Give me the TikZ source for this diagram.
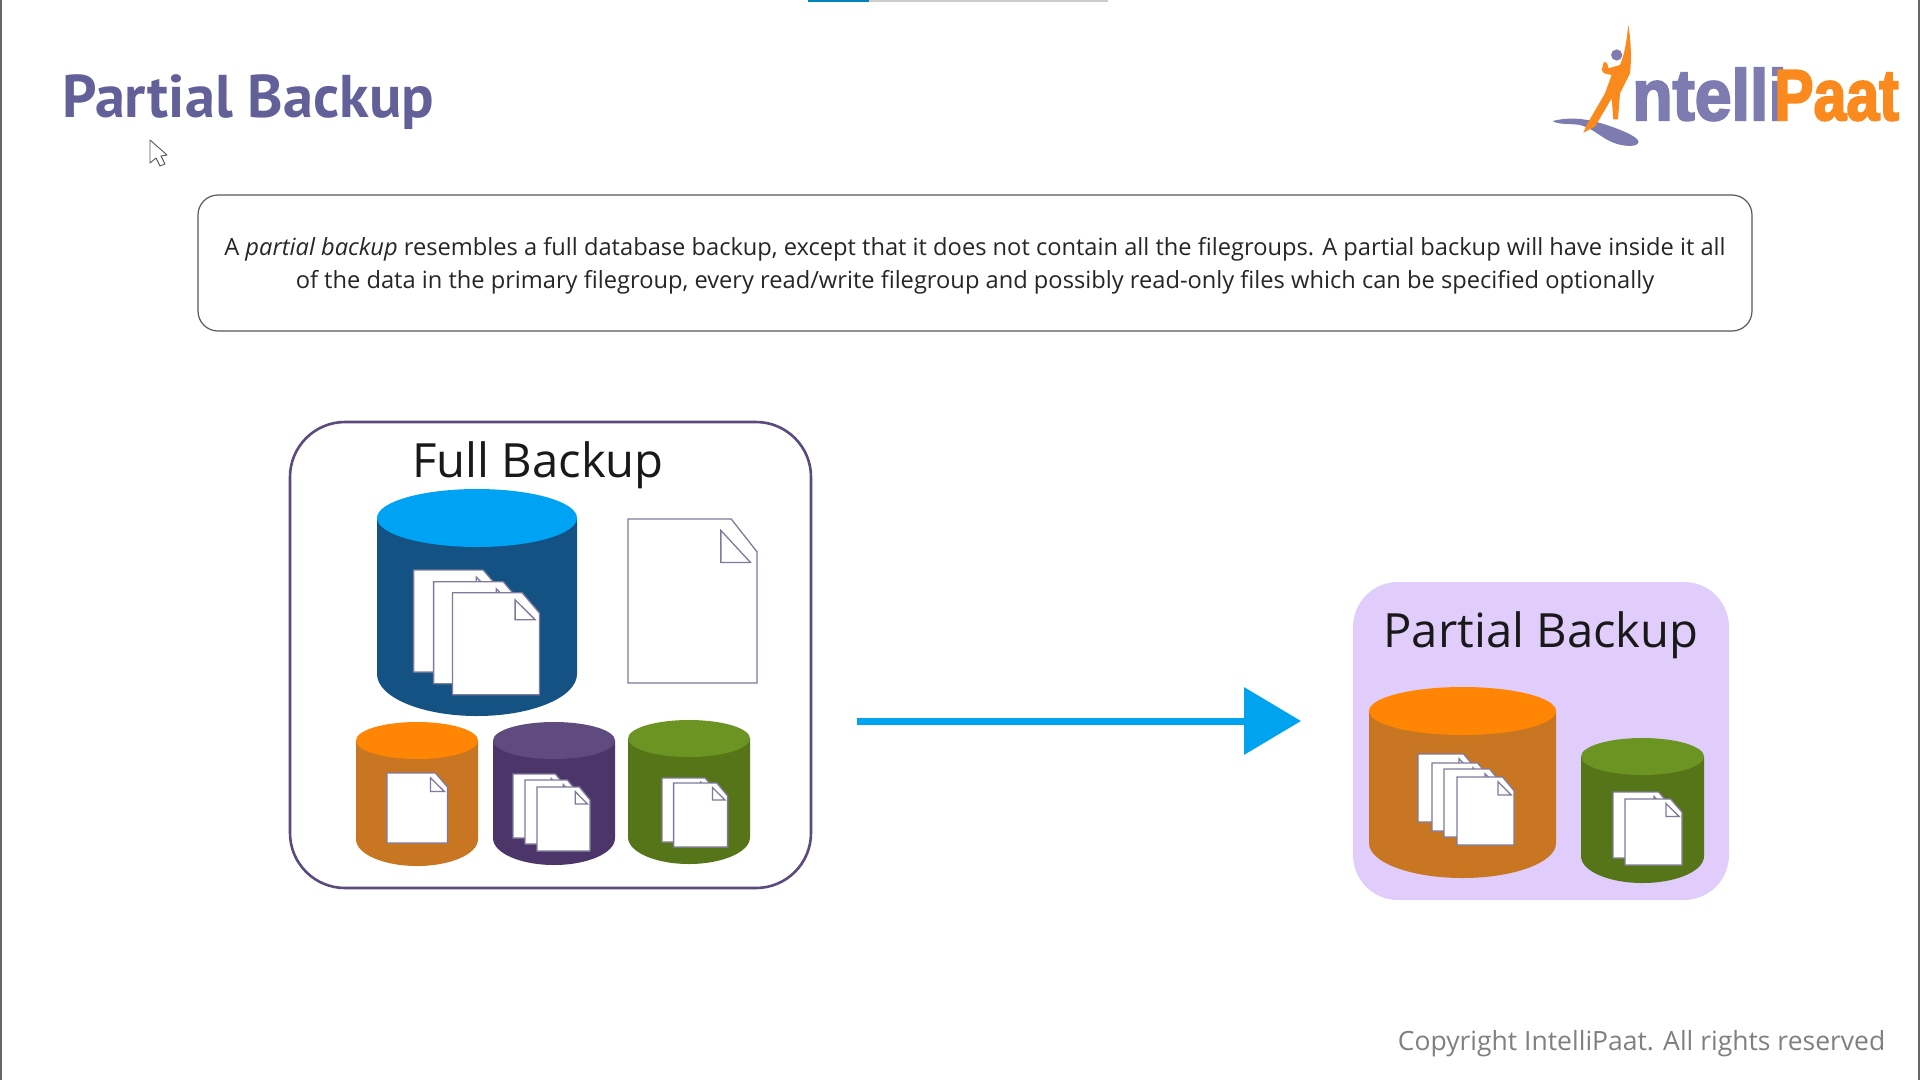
\documentclass[tikz,border=0pt]{standalone}
\usepackage{fontspec}
\setmainfont{Open Sans}
\newfontfamily\titlefont{PT Sans}
\newfontfamily\logofont{Liberation Sans}[BoldFeatures={FakeBold=3}]
\usetikzlibrary{arrows.meta}
\definecolor{framecol}{HTML}{5B4A80}
\definecolor{panelcol}{HTML}{E1CDFB}
\definecolor{flowcol}{HTML}{00A3EE}
\definecolor{titlecol}{HTML}{625F99}
\definecolor{logoviolet}{HTML}{7D7BB0}
\definecolor{logoorange}{HTML}{FA8A1E}
\definecolor{blueside}{HTML}{145283}
\definecolor{bluetop}{HTML}{00A2F3}
\definecolor{orangeside}{HTML}{C97623}
\definecolor{orangetop}{HTML}{FF8505}
\definecolor{purpleside}{HTML}{4B3569}
\definecolor{purpletop}{HTML}{5F4B7D}
\definecolor{greenside}{HTML}{567518}
\definecolor{greentop}{HTML}{6C9423}
\definecolor{pageline}{HTML}{7F7A9C}
\tikzset{
  infobox/.style={draw=black!65,line width=1.2pt,rounded corners=20pt,fill=white,inner sep=0pt,outer sep=0pt},
  fullframe/.style={draw=framecol,line width=2.6pt,rounded corners=55pt,inner sep=0pt,outer sep=0pt},
  partialpanel/.style={fill=panelcol,rounded corners=45pt,inner sep=0pt,outer sep=0pt},
  flow/.style={draw=flowcol,line width=7pt,-{Triangle[length=57pt,width=66pt]}},
  caption/.style={font=\fontsize{47.2}{52}\selectfont,text=black!90,inner sep=0pt},
  pageshape/.style={draw=pageline,line width=1.3pt,fill=white,line join=miter},
}
% xl xr ytop ybottom rytop side top
\newcommand{\dbcyl}[7]{%
  \pgfmathsetmacro{\crx}{(#2-#1)/2}%
  \pgfmathsetmacro{\ccx}{(#2+#1)/2}%
  \pgfmathsetmacro{\ccy}{#3+#5}%
  \pgfmathsetmacro{\cbr}{1.45*#5}%
  \pgfmathsetmacro{\cye}{#4-\cbr}%
  \fill[#6] (#1,\ccy) -- (#1,\cye) arc[start angle=180,end angle=360,x radius=\crx pt,y radius=\cbr pt] -- (#2,\ccy) -- cycle;
  \fill[#7] (\ccx,\ccy) ellipse[x radius=\crx pt,y radius=#5 pt];
}
% x y w h
\newcommand{\docpage}[4]{%
  \pgfmathsetmacro{\dxr}{#1+#3}%
  \pgfmathsetmacro{\dyb}{#2+#4}%
  \pgfmathsetmacro{\dxc}{#1+0.8*#3}%
  \pgfmathsetmacro{\dyc}{#2+0.2*#4}%
  \pgfmathsetmacro{\fx}{#1+0.72*#3}%
  \pgfmathsetmacro{\fy}{#2+0.07*#4}%
  \pgfmathsetmacro{\fyb}{#2+0.265*#4}%
  \pgfmathsetmacro{\fxr}{#1+0.95*#3}%
  \draw[pageshape] (#1,#2) -- (\dxc,#2) -- (\dxr,\dyc) -- (\dxr,\dyb) -- (#1,\dyb) -- cycle;
  \draw[pageshape] (\fx,\fy) -- (\fx,\fyb) -- (\fxr,\fyb) -- cycle;
}
\begin{document}
\begin{tikzpicture}[x=1pt,y=-1pt]
\useasboundingbox (0,0) rectangle (1920,1080);
\fill[white] (0,0) rectangle (1920,1080);
% page edges
\fill[black!60] (0,0) rectangle (2,1080);
\fill[black!60] (1918,0) rectangle (1920,1080);
\fill[flowcol!80!black] (808,0) rectangle (869,2);
\fill[black!20] (869,0) rectangle (1108,1.5);
% title and cursor
\node[anchor=base west,inner sep=0pt,text=titlecol,font=\titlefont\bfseries\fontsize{60.3}{64}\selectfont] (title) at (62,117) {Partial Backup};
\draw[black!65,line width=0.9pt,fill=white,line join=round] (150,140) -- (150,163) -- (156,158) -- (160,166) -- (165,164) -- (161,156) -- (167,155) -- cycle;
% logo
\begin{scope}[shift={(1530,10)},x=0.3333pt,y=-0.3333pt]
\fill[logoviolet] (68,333) .. controls (120,320) and (170,325) .. (230,345) .. controls (290,365) and (330,385) .. (325,398) .. controls (320,412) and (280,410) .. (250,398) .. controls (215,385) and (190,355) .. (150,345) .. controls (120,340) and (85,345) .. (68,333) -- cycle;
\fill[logoorange] (295,45) .. controls (303,90) and (305,150) .. (300,190) -- (270,250) -- (264,328) -- (250,328) -- (245,265) -- (195,350) -- (160,368) -- (170,345) -- (225,250) -- (245,195) -- (222,190) -- (215,180) -- (222,155) -- (232,160) -- (235,175) -- (270,165) .. controls (285,130) and (290,90) .. (295,45) -- cycle;
\fill[logoviolet] (260,135) circle[radius=5.6pt];
\end{scope}
\node[anchor=base west,inner sep=0pt,text=logoviolet,font=\logofont\bfseries\fontsize{72}{72}\selectfont] (logoa) at (1632,120) {\scalebox{0.92}[1]{ntelli}};
\node[anchor=base west,inner sep=0pt,text=logoorange,font=\logofont\bfseries\fontsize{72}{72}\selectfont] (logob) at (1774,120) {\scalebox{0.82}[1]{Paat}};
% info box
\node[infobox,minimum width=1554pt,minimum height=136pt] (info) at (975,263) {};
\node[align=center,inner sep=0pt,font=\fontsize{23.66}{33}\selectfont,text=black!85] (infotext) at (975,265.5)
 {A \textit{partial backup} resembles a full database backup, except that it does not contain all the filegroups. A partial backup will have inside it all\\
  of the data in the primary filegroup, every read/write filegroup and possibly read-only files which can be specified optionally};
% full backup frame
\node[fullframe,minimum width=521pt,minimum height=466pt] (frame) at (550.5,655) {};
\node[caption] (fulllabel) at (538,465) {Full Backup};
\dbcyl{377}{577}{489}{716}{29}{blueside}{bluetop}
\docpage{413.6}{570}{87}{102}
\docpage{433.6}{581.7}{87}{102}
\docpage{452.5}{592.7}{87}{102}
\docpage{628}{519}{129}{164}
\dbcyl{356}{478}{722}{866}{18.5}{orangeside}{orangetop}
\docpage{387}{773}{60.5}{70}
\dbcyl{493}{615}{722}{865}{18.5}{purpleside}{purpletop}
\docpage{513}{774}{53}{64}
\docpage{525}{780}{53}{64}
\docpage{537}{787}{53}{64}
\dbcyl{628}{750}{720}{864}{18.5}{greenside}{greentop}
\docpage{662}{778}{54}{64}
\docpage{673.6}{783}{54}{64}
% partial backup panel
\node[partialpanel,minimum width=376pt,minimum height=318pt] (panel) at (1541,741) {};
\node[caption] (partiallabel) at (1541,635) {Partial Backup};
\dbcyl{1369}{1556}{687}{878}{24}{orangeside}{orangetop}
\docpage{1418}{754}{57}{68}
\docpage{1432}{763}{57}{68}
\docpage{1444}{769}{57}{68}
\docpage{1457}{777}{57}{68}
\dbcyl{1581}{1704}{738}{883}{18.5}{greenside}{greentop}
\docpage{1613}{792}{57}{66}
\docpage{1625}{799}{57}{66}
% arrow
\coordinate (flowy) at (0,721);
\draw[flow,shorten <=46pt,shorten >=52pt] (frame.east |- flowy) -- (panel.west |- flowy);
% copyright
\node[anchor=base east,inner sep=0pt,text=black!50,font=\fontsize{26.5}{30}\selectfont] (copyright) at (1885.5,1050) {Copyright IntelliPaat. All rights reserved};
\end{tikzpicture}
\end{document}
